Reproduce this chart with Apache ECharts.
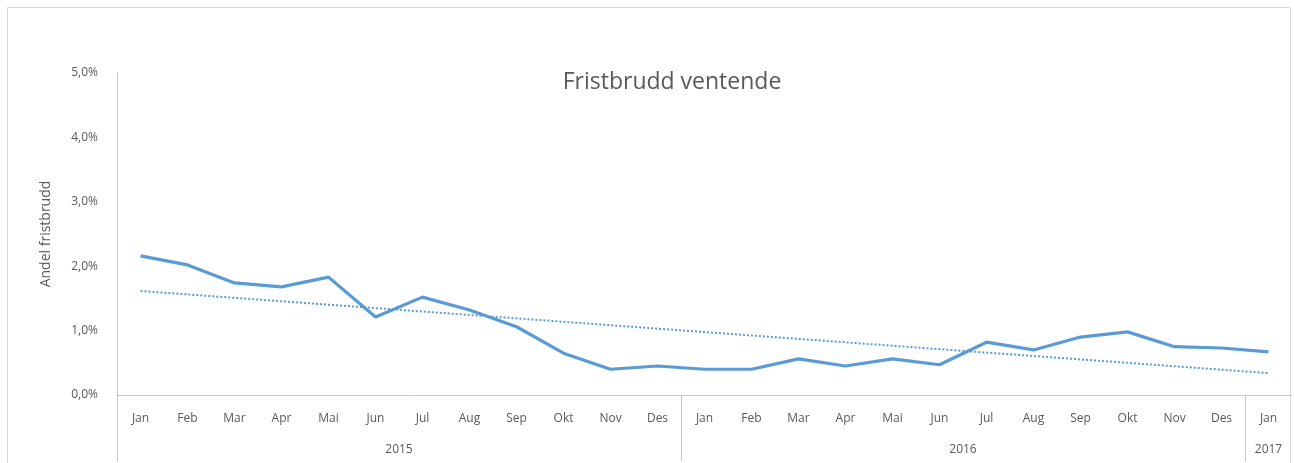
<!DOCTYPE html>
<html><head><meta charset="utf-8">
<script src="https://cdn.jsdelivr.net/npm/echarts@6/dist/echarts.min.js"></script>
<style>html,body{margin:0;padding:0;background:#fff}#c{width:1295px;height:463px}</style>
</head><body><div id="c"></div>
<script>
const months = ['Jan','Feb','Mar','Apr','Mai','Jun','Jul','Aug','Sep','Okt','Nov','Des','Jan','Feb','Mar','Apr','Mai','Jun','Jul','Aug','Sep','Okt','Nov','Des','Jan'];
const values = [2.16,2.02,1.74,1.68,1.83,1.21,1.52,1.32,1.06,0.65,0.40,0.45,0.40,0.40,0.56,0.45,0.56,0.47,0.82,0.70,0.90,0.98,0.75,0.73,0.67];
const years = ['2015','2016','2017'];
const yearSpans = [12,12,1];
const trendStart = 1.615, trendEnd = 0.34;

const trend = months.map((m,i)=> i===0 ? trendStart : (i===months.length-1 ? trendEnd : null));
const yearBounds = [0]; yearSpans.forEach(s=>yearBounds.push(yearBounds[yearBounds.length-1]+s));
const yearCenters = years.map((y,i)=> (yearBounds[i]+yearBounds[i+1])/2);
const txt = '#595959', ax = '#C8C8C8', blue = '#5B9BD5';
const font = '"Open Sans", Lato, sans-serif';

const chart = echarts.init(document.getElementById('c'), null, {renderer:'canvas'});
chart.setOption({
  animation:false,
  title:{text:'Fristbrudd ventende', left:667, textAlign:'center', top:66,
    textStyle:{fontFamily:font, fontSize:23, fontWeight:'normal', color:txt}},
  graphic:[{type:'rect', shape:{x:7.5,y:7.5,width:1283,height:480}, style:{fill:'none', stroke:'#D9D9D9', lineWidth:1}, silent:true}],
  grid:{left:117, right:3, top:73, bottom:68},
  xAxis:[{
    type:'category', data:months, boundaryGap:true,
    axisLine:{show:true, lineStyle:{color:ax, width:1}},
    axisTick:{show:false},
    axisLabel:{color:txt, fontFamily:font, fontSize:12, margin:18, interval:0}
  },{
    type:'value', min:0, max:months.length, position:'bottom',
    axisLine:{show:false},
    splitLine:{show:false},
    axisTick:{show:true, customValues:yearBounds.slice(0,-1), length:66, lineStyle:{color:ax, width:1}},
    axisLabel:{show:true, customValues:yearCenters, color:txt, fontFamily:font, fontSize:12, margin:49,
      formatter:(v)=>{const i=yearCenters.indexOf(v); return i>=0?years[i]:'';}}
  }],
  yAxis:{
    type:'value', min:0, max:5, interval:1,
    name:'Andel fristbrudd', nameLocation:'middle', nameGap:64,
    nameTextStyle:{color:txt, fontFamily:font, fontSize:14},
    axisLine:{show:true, lineStyle:{color:ax, width:1}},
    axisTick:{show:false},
    splitLine:{show:false},
    axisLabel:{color:txt, fontFamily:font, fontSize:12, margin:19,
      formatter:(v)=>v.toFixed(1).replace('.',',')+'%'}
  },
  series:[{
    type:'line', data:values, xAxisIndex:0, symbol:'none',
    lineStyle:{color:blue, width:3.2}, z:3
  },{
    type:'line', data:trend, xAxisIndex:0, symbol:'none', connectNulls:true,
    lineStyle:{color:blue, width:2, type:[2,2]}, z:2
  }]
});
</script></body></html>
